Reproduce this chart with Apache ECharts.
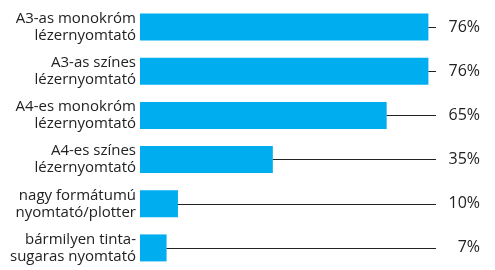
<!DOCTYPE html>
<html lang="hu">
<head>
<meta charset="UTF-8">
<title>Nyomtatók</title>
<script src="https://cdn.jsdelivr.net/npm/echarts@6/dist/echarts.min.js"></script>
<style>
    html, body { margin: 0; padding: 0; background: #fff; }
    #container { width: 495px; height: 270px; }
</style>
</head>
<body>
<div id="container"></div>
<script type="text/javascript">
    // adatok
    var categories = [
        'A3-as monokróm\nlézernyomtató',
        'A3-as színes\nlézernyomtató',
        'A4-es monokróm\nlézernyomtató',
        'A4-es színes\nlézernyomtató',
        'nagy formátumú\nnyomtató/plotter',
        'bármilyen tinta-\nsugaras nyomtató'
    ];
    var values = [76, 76, 65, 35, 10, 7];
    var valueLabels = ['76%', '76%', '65%', '35%', '10%', '7%'];
    var xMax = 78;

    var chart = echarts.init(document.getElementById('container'), null, { renderer: 'canvas' });

    // vezetővonalak a sáv végétől a jobb szélig
    var guideLines = categories.map(function (c, i) {
        return [{ coord: [values[i], c] }, { coord: [xMax, c] }];
    });

    var option = {
        animation: false,
        grid: { left: 140, top: 5, width: 296, height: 270 },
        xAxis: {
            type: 'value', min: 0, max: xMax, show: false
        },
        yAxis: [
            {
                type: 'category', inverse: true, data: categories,
                axisLine: { show: false }, axisTick: { show: false },
                axisLabel: {
                    margin: 4, color: '#222', fontSize: 15, lineHeight: 17,
                    fontFamily: 'Open Sans', align: 'right', padding: [3, 0, 0, 0]
                }
            },
            {
                type: 'category', inverse: true, position: 'right', data: valueLabels,
                axisLine: { show: false }, axisTick: { show: false },
                axisLabel: {
                    margin: 44, color: '#222', fontSize: 16,
                    fontFamily: 'Open Sans', align: 'right'
                }
            }
        ],
        series: [
            {
                type: 'bar', data: values, barWidth: 27,
                itemStyle: { color: '#00adef' },
                markLine: {
                    silent: true, symbol: 'none',
                    label: { show: false },
                    lineStyle: { color: '#222', width: 1, type: 'solid' },
                    data: guideLines
                }
            }
        ]
    };
    chart.setOption(option);
</script>
</body>
</html>
